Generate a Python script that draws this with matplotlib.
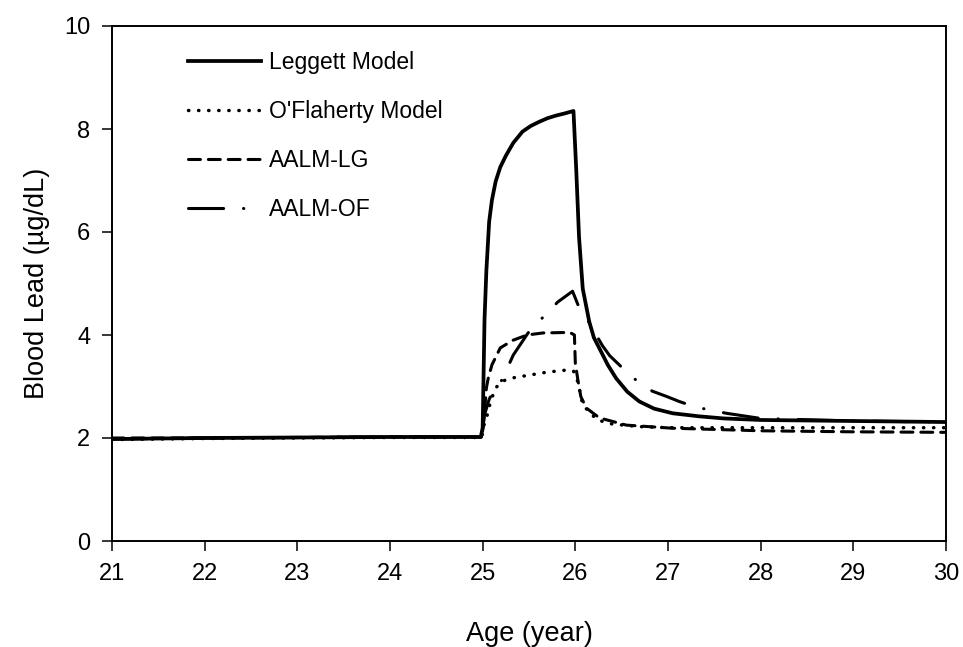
import matplotlib
matplotlib.use("Agg")
import matplotlib.pyplot as plt
import numpy as np

plt.rcParams['font.family'] = ['Liberation Sans', 'DejaVu Sans']

# Leggett Model
leg_x = [21.0, 22.0, 23.0, 24.0, 24.98, 25.0, 25.02, 25.04, 25.07, 25.1, 25.14, 25.19, 25.25,
         25.33, 25.43, 25.52, 25.61, 25.7, 25.79, 25.88, 25.98, 26.01, 26.04, 26.08, 26.15,
         26.2, 26.26, 26.35, 26.44, 26.56, 26.69, 26.85, 27.05, 27.34, 27.6, 28.0, 29.0, 30.0]
leg_y = [1.98, 2.0, 2.01, 2.02, 2.02, 2.2, 4.3, 5.25, 6.2, 6.62, 6.98, 7.26, 7.48,
         7.73, 7.95, 8.06, 8.14, 8.21, 8.26, 8.3, 8.35, 7.2, 5.9, 4.9, 4.26,
         3.95, 3.74, 3.42, 3.16, 2.9, 2.71, 2.57, 2.48, 2.42, 2.38, 2.35, 2.33, 2.31]

# O'Flaherty Model
ofl_x = [21.0, 22.0, 23.0, 24.0, 24.99, 25.02, 25.06, 25.08, 25.11, 25.15, 25.21, 25.3,
         25.5, 25.7, 25.91, 25.98, 26.02, 26.05, 26.08, 26.18, 26.24, 26.4, 26.7,
         27.0, 28.0, 29.0, 30.0]
ofl_y = [1.97, 1.99, 2.0, 2.01, 2.01, 2.3, 2.5, 2.68, 2.83, 2.99, 3.1, 3.16,
         3.22, 3.28, 3.32, 3.3, 3.13, 2.9, 2.64, 2.45, 2.35, 2.27, 2.22,
         2.2, 2.2, 2.2, 2.2]

# AALM-LG
alg_x = [21.0, 22.0, 23.0, 24.0, 24.99, 25.02, 25.04, 25.06, 25.1, 25.19, 25.33, 25.48,
         25.65, 25.94, 25.99, 26.0, 26.03, 26.06, 26.12, 26.26, 26.55, 27.05,
         28.0, 29.0, 30.0]
alg_y = [2.0, 2.0, 2.01, 2.02, 2.02, 2.5, 2.97, 3.16, 3.42, 3.75, 3.9, 4.0,
         4.04, 4.05, 4.0, 3.45, 3.1, 2.8, 2.58, 2.39, 2.25, 2.19,
         2.14, 2.12, 2.11]

# AALM-OF
aof_x = [21.0, 22.0, 23.0, 24.0, 24.99, 25.02, 25.07, 25.13, 25.21, 25.33, 25.49, 25.6,
         25.81, 25.97, 26.03, 26.12, 26.29, 26.37, 26.48, 26.58, 26.83, 26.98,
         27.12, 27.3, 27.63, 28.0, 29.0, 30.0]
aof_y = [1.98, 2.0, 2.01, 2.02, 2.02, 2.45, 2.75, 2.97, 3.13, 3.61, 4.04, 4.25,
         4.64, 4.85, 4.58, 4.33, 3.8, 3.6, 3.41, 3.22, 2.91, 2.81,
         2.71, 2.6, 2.48, 2.38, 2.33, 2.31]

fig = plt.figure(figsize=(9.63, 6.47), dpi=100)
ax = fig.add_axes([112 / 963, 1 - 541 / 647, (946 - 112) / 963, (541 - 26) / 647])

ax.plot(leg_x, leg_y, color='black', lw=2.7, solid_joinstyle='round', label='Leggett Model')
ax.plot(ofl_x, ofl_y, color='black', lw=2.5, linestyle=(0, (0.1, 2.8)),
        dash_capstyle='round', label="O'Flaherty Model")
ax.plot(alg_x, alg_y, color='black', lw=2.2, linestyle=(0, (3.9, 2.6)),
        dash_capstyle='round', label='AALM-LG')
ax.plot(aof_x, aof_y, color='black', lw=2.2, linestyle=(0, (11.5, 6.5, 0.1, 6.5)),
        dash_capstyle='round', label='AALM-OF')

ax.set_xlim(21, 30)
ax.set_ylim(0, 10)
ax.set_xticks(range(21, 31))
ax.set_yticks(range(0, 11, 2))
ax.tick_params(axis='both', direction='out', length=7.5, width=1.1, labelsize=17,
               top=False, right=False, pad=8)
for s in ax.spines.values():
    s.set_linewidth(1.4)

ax.set_xlabel('Age (year)', fontsize=19.5, labelpad=26)
ax.set_ylabel('Blood Lead (µg/dL)', fontsize=19.5, labelpad=10)

leg = ax.legend(loc='upper left', bbox_to_anchor=(188 / 963, 1 - 51 / 647),
                bbox_transform=fig.transFigure, frameon=False, borderpad=0, borderaxespad=0,
                fontsize=16.5, handlelength=3.2, handletextpad=0.35, labelspacing=1.14)

fig.savefig('out.png', dpi=100)
